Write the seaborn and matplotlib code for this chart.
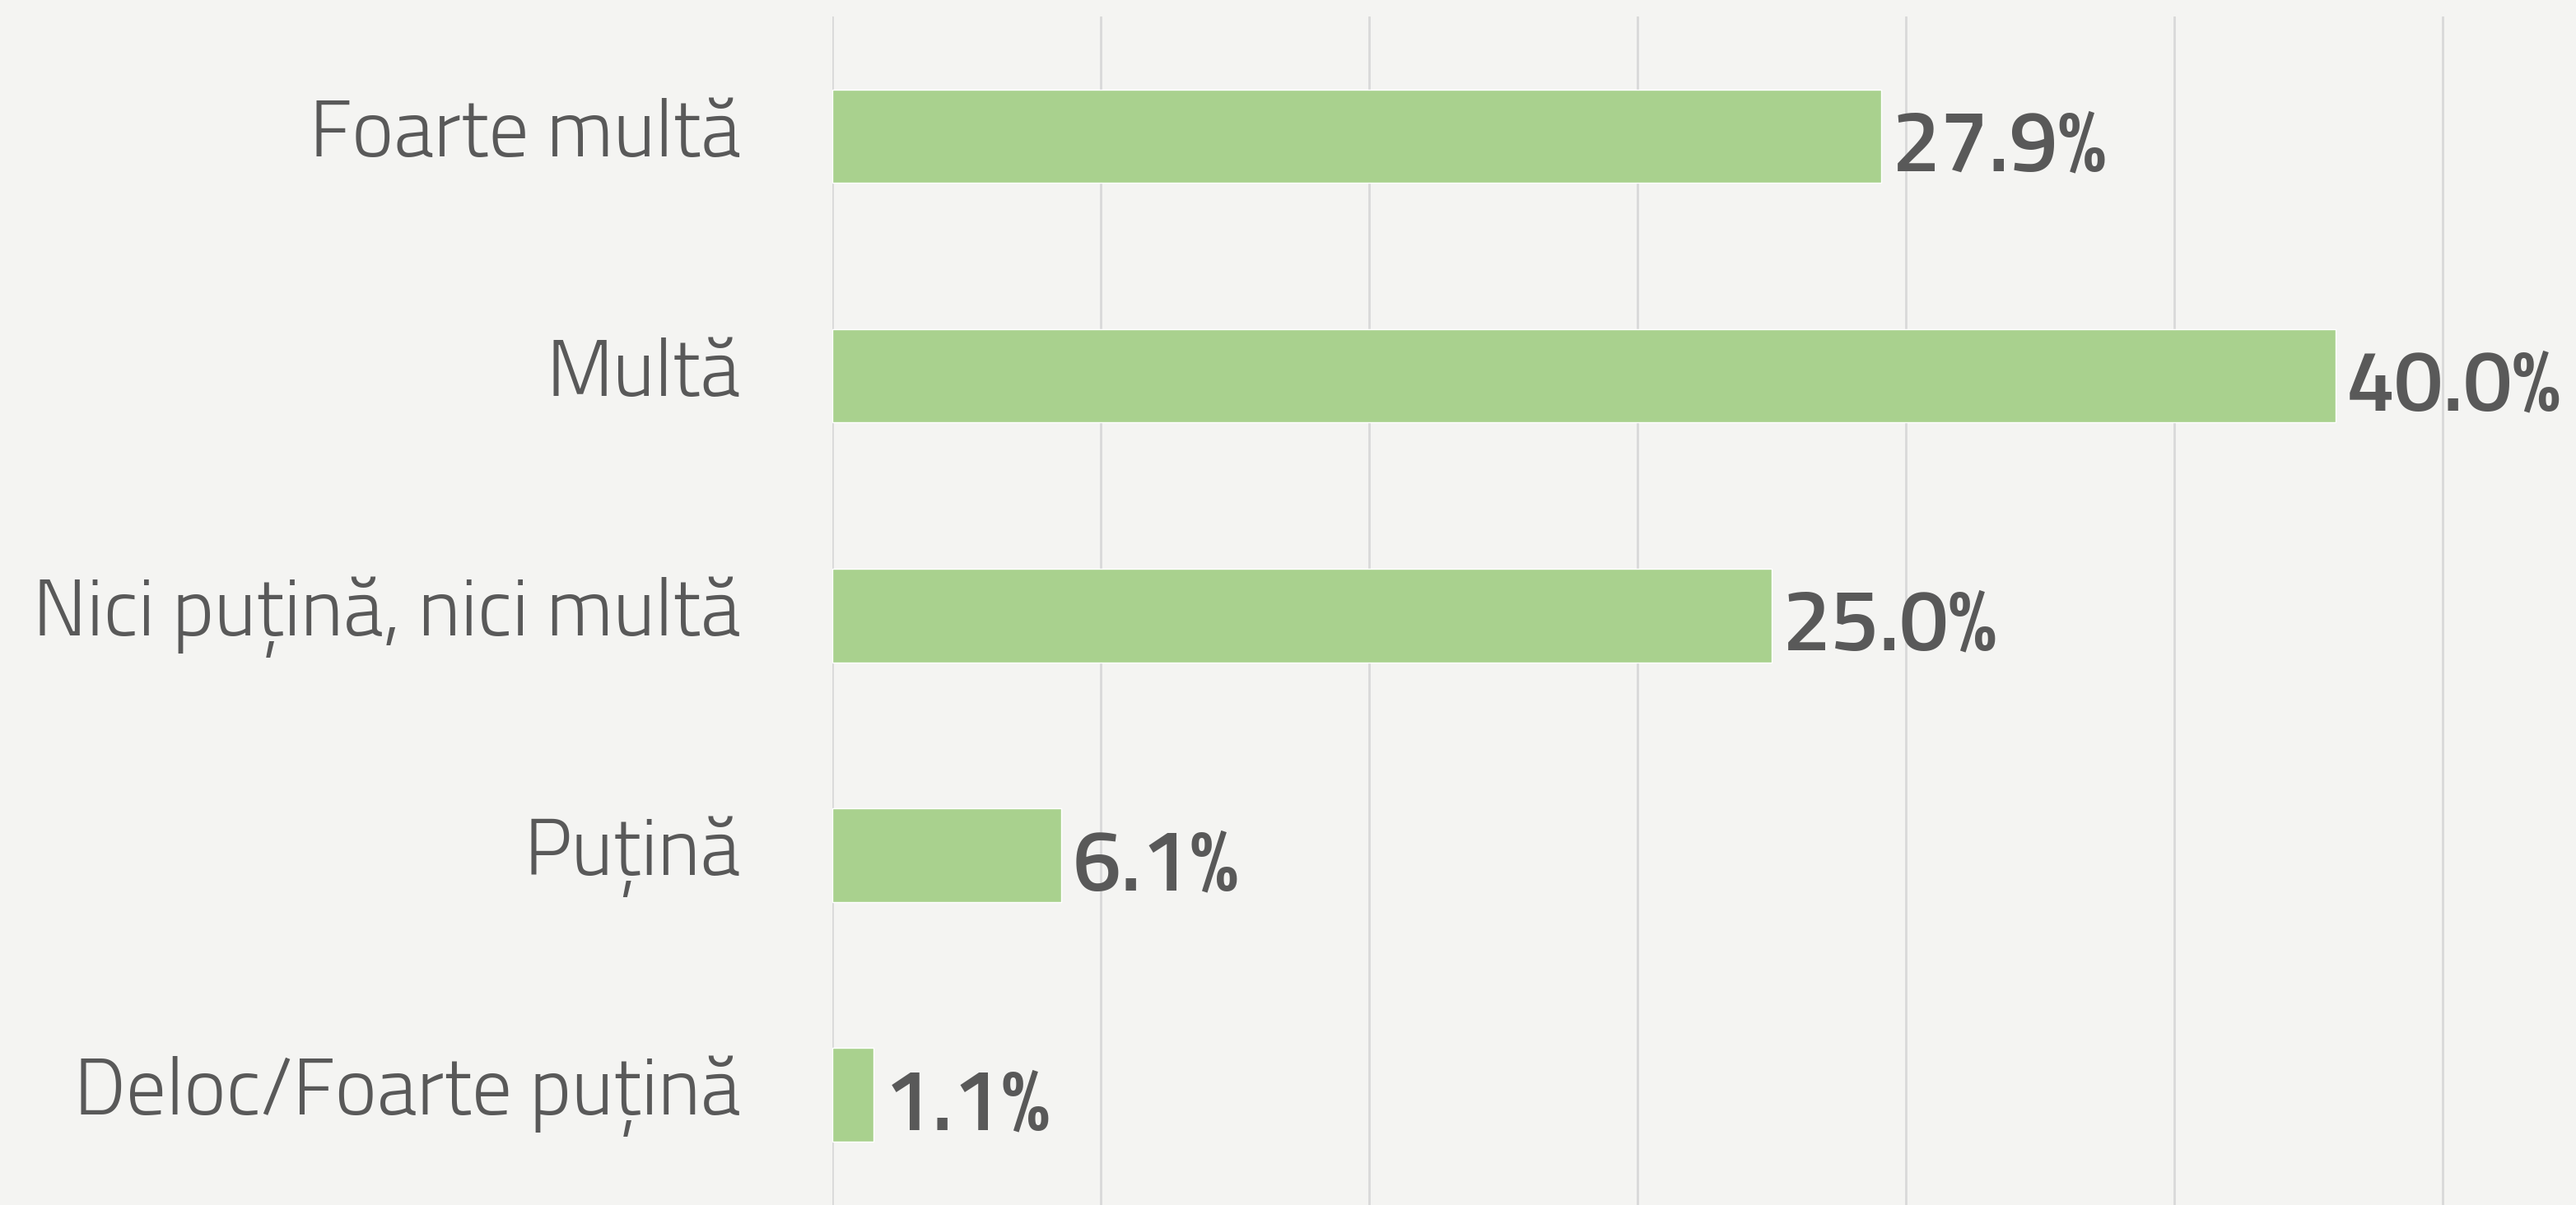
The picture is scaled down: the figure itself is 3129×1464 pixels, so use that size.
import matplotlib
matplotlib.use("Agg")
import matplotlib.pyplot as plt
import seaborn as sns
import numpy as np
import pandas as pd

categories = ["Foarte multă", "Multă", "Nici puțină, nici multă", "Puțină", "Deloc/Foarte puțină"]
values = [27.9, 40.0, 25.0, 6.1, 1.1]
value_labels = ["27.9%", "40.0%", "25.0%", "6.1%", "1.1%"]

sns.set_theme(style="white")
FONTS = ['Titillium Web', 'Fira Sans Condensed', 'DejaVu Sans']
plt.rcParams['font.family'] = FONTS

BG = "#f4f4f2"
BAR = "#a9d18e"
TXT = "#595959"
GRID = "#d9d9d9"

W, H = 3129, 1464
DPI = 100
fig = plt.figure(figsize=(W / DPI, H / DPI), dpi=DPI, facecolor=BG)
ax = fig.add_axes([1011 / W, 0.0, 1 - 1011 / W, 1 - 20 / H])
ax.set_facecolor(BG)

df = pd.DataFrame({"cat": categories, "val": values})
sns.barplot(data=df, x="val", y="cat", orient="h", color=BAR, saturation=1,
            width=0.39, ax=ax, zorder=2)

ax.set_xlim(0, 46.4)
ax.set_ylim(4.46, -0.5)
step = 100 / 14
ax.set_xticks(np.arange(0, 46.4, step))
ax.xaxis.grid(True, color=GRID, linewidth=2, zorder=0)
ax.set_axisbelow(True)
ax.tick_params(axis="x", length=0, labelbottom=False)
ax.tick_params(axis="y", length=0, labelleft=False)
ax.set_xlabel("")
ax.set_ylabel("")
for s in ax.spines.values():
    s.set_visible(False)

px = 72 / DPI  # points per pixel
# category labels: right-aligned, baseline slightly below bar centre
for i, lab in enumerate(categories):
    ax.annotate(lab, xy=(0, i), xycoords=("axes fraction", "data"),
                xytext=(-111 * px, -24 * px), textcoords="offset points",
                ha="right", va="baseline", fontsize=70, fontweight=300,
                color=TXT)

# value labels at bar ends
for bar, lab in zip(ax.containers[0], value_labels):
    y = bar.get_y() + bar.get_height() / 2
    ax.annotate(lab, xy=(bar.get_width(), y), xycoords="data",
                xytext=(13 * px, -42 * px), textcoords="offset points",
                ha="left", va="baseline", fontsize=76, fontweight=600,
                color=TXT)

fig.savefig("out.png", dpi=DPI, facecolor=BG)
